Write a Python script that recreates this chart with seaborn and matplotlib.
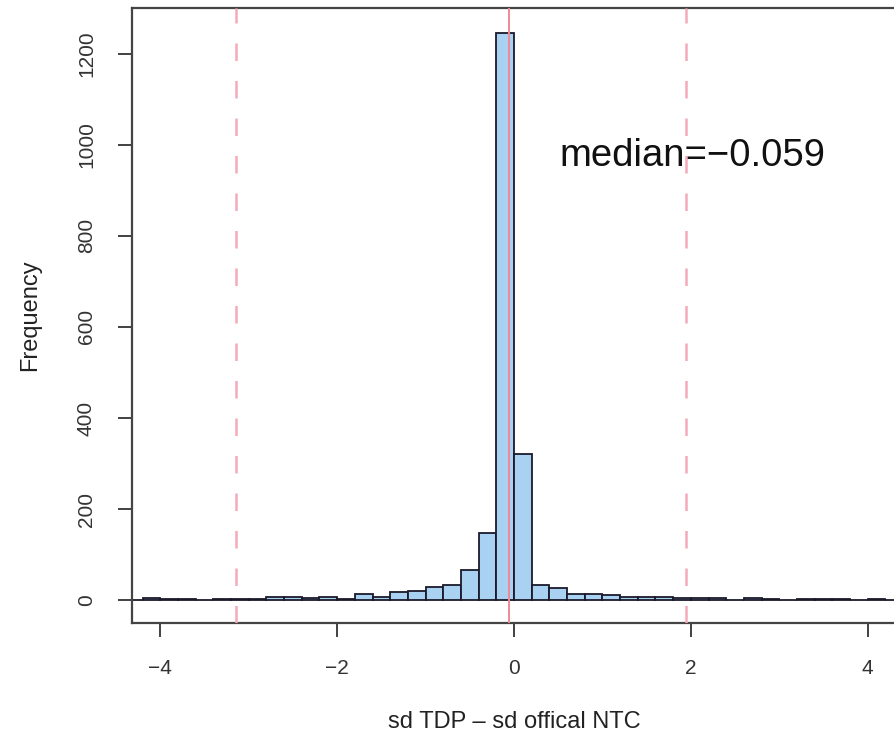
import numpy as np
import pandas as pd
import matplotlib
matplotlib.use("Agg")
import matplotlib.pyplot as plt
import seaborn as sns

# ---- data (bin width 0.2) ----
bin_start = -4.4
bin_width = 0.2
counts = [0, 5, 3, 2, 1, 3, 3, 2, 7, 7, 4, 6, 3, 13, 7, 18, 21, 29, 34, 67, 148,
          1245, 320, 33, 26, 14, 14, 11, 6, 7, 7, 5, 5, 4, 1, 4, 2, 1, 2, 2, 2, 1, 2, 1]
median_value = -0.059
dashed_lines = [-3.14, 1.95]
x_ticks = [-4, -2, 0, 2, 4]
y_ticks = [0, 200, 400, 600, 800, 1000, 1200]
x_label = "sd TDP \u2013 sd offical NTC"
y_label = "Frequency"
annotation = "median=\u22120.059"

edges = [round(bin_start + bin_width * i, 6) for i in range(len(counts) + 1)]
centers = [(edges[i] + edges[i + 1]) / 2 for i in range(len(counts))]
df = pd.DataFrame({"value": centers, "count": counts})

sns.set_theme(style="white")
plt.rcParams["font.family"] = ["Liberation Sans", "DejaVu Sans"]
plt.rcParams["axes.unicode_minus"] = True

fig = plt.figure(figsize=(8.94, 7.41), dpi=100)
ax = fig.add_axes([132 / 894, 118 / 741, 764 / 894, 615 / 741])

sns.histplot(data=df, x="value", weights="count", bins=edges, ax=ax,
             color="#a9d2f2", edgecolor="#1a1a2a", linewidth=1.3, alpha=1.0)

ax.axvline(median_value, color="#ee8a94", lw=1.4, zorder=5)
for v in dashed_lines:
    ax.axvline(v, color="#f4aab8", lw=1.8, linestyle=(0, (7, 8)), zorder=5)

ax.text(2.02, 975, annotation, fontsize=27.5, ha="center", va="center", color="#111111")

ax.set_xlim(-4.32, 4.32)
ax.set_ylim(-50, 1300)
ax.set_xticks(x_ticks)
ax.set_yticks(y_ticks)
ax.set_xticklabels([f"{t}".replace("-", "\u2212") for t in x_ticks], fontsize=15, color="#333333")
ax.set_yticklabels([str(t) for t in y_ticks], fontsize=15, rotation=90, va="center", color="#333333")
ax.set_xlabel(x_label, fontsize=17, labelpad=24, color="#222222")
ax.set_ylabel(y_label, fontsize=17, labelpad=26, color="#222222")
ax.tick_params(axis="both", direction="out", length=10, width=1.3, colors="#333333",
               bottom=True, left=True, pad=16)
for s in ax.spines.values():
    s.set_visible(True)
    s.set_color("#444444")
    s.set_linewidth(1.6)

fig.savefig("out.png", dpi=100)
